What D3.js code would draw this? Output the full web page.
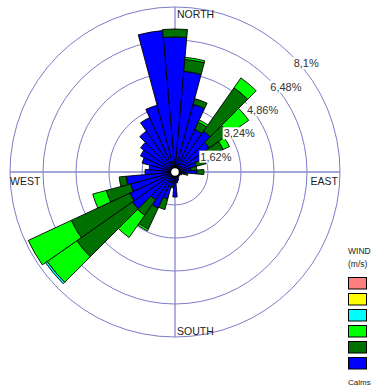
<!DOCTYPE html>
<html>
<head>
<meta charset="utf-8">
<script src="https://cdn.jsdelivr.net/npm/d3@7/dist/d3.min.js"></script>
<style>
  body { margin: 0; background: #fff; }
  svg { display: block; font-family: "Liberation Sans", Arial, sans-serif; }
</style>
</head>
<body>
<div id="chart"></div>
<script>
// direction sectors (degrees, clockwise from north)
const directions = d3.range(0, 360, 10);

// frequency (%) per speed class, one value per direction
const speed1 = [6.63, 4.96, 3.44, 2.31, 2.45, 2.06, 1.87, 1.08, 0.79, 1.08, 0.49, 0.34,
                0.29, 0.25, 0.29, 0.34, 0.44, 0.54, 1.23, 0.69, 1.37, 1.96, 1.67, 2.55,
                2.45, 2.26, 2.41, 1.47, 1.28, 1.67, 1.87, 2.06, 2.45, 2.95, 3.39, 6.97];
const speed2 = [0.39, 0.59, 0.29, 0.39, 2.60, 1.18, 0.74, 0.49, 0.29, 0.34, 0.15, 0,
                0, 0, 0, 0, 0, 0, 0, 0.10, 0.54, 1.13, 0.93, 3.34,
                3.17, 1.23, 0.34, 0, 0, 0, 0, 0, 0, 0, 0, 0];
const speed3 = [0, 0.10, 0, 0.12, 0.59, 1.18, 0.34, 0, 0, 0, 0, 0,
                0, 0, 0, 0, 0, 0, 0, 0, 0, 0.10, 1.33, 1.77,
                2.33, 0.69, 0, 0, 0, 0, 0, 0, 0, 0, 0, 0];
const speed4 = [0, 0, 0, 0, 0, 0, 0, 0, 0, 0, 0, 0,
                0, 0, 0, 0, 0, 0, 0, 0, 0, 0, 0, 0.10,
                0, 0, 0, 0, 0, 0, 0, 0, 0, 0, 0, 0];
const speed5 = directions.map(() => 0);
const speed6 = directions.map(() => 0);

const ringTicks = [1.62, 3.24, 4.86, 6.48, 8.1];
const ringLabels = ['1,62%', '3,24%', '4,86%', '6,48%', '8,1%'];

const keys = ['s1', 's2', 's3', 's4', 's5', 's6'];
const colors = ['#0000ff', '#007000', '#00ff00', '#00ffff', '#ffff00', '#ff8080'];

const W = 373, H = 389;
const cx = 175, cy = 172, R = 165;

const svg = d3.select('#chart').append('svg')
    .attr('width', W)
    .attr('height', H);

const r = d3.scaleLinear().domain([0, 8.1]).range([0, R]);

const table = directions.map((d, i) => ({
    dir: d,
    s1: speed1[i], s2: speed2[i], s3: speed3[i],
    s4: speed4[i], s5: speed5[i], s6: speed6[i]
}));
const series = d3.stack().keys(keys)(table);

const g = svg.append('g').attr('transform', `translate(${cx},${cy})`);

// rings
g.selectAll('circle.ring')
    .data(ringTicks)
    .join('circle')
    .attr('class', 'ring')
    .attr('r', d => r(d))
    .attr('fill', 'none')
    .attr('stroke', '#7c7cc8')
    .attr('stroke-width', 1);

// cross
g.append('line').attr('x1', -R).attr('x2', R).attr('y1', 0).attr('y2', 0)
    .attr('stroke', '#8888cc').attr('stroke-width', 1.3);
g.append('line').attr('x1', 0).attr('x2', 0).attr('y1', -R).attr('y2', R)
    .attr('stroke', '#8888cc').attr('stroke-width', 1.3);

// petals
const half = Math.PI / 36;
const arc = d3.arc()
    .innerRadius(d => r(d[0]))
    .outerRadius(d => r(d[1]))
    .startAngle(d => d.data.dir * Math.PI / 180 - half)
    .endAngle(d => d.data.dir * Math.PI / 180 + half);

series.forEach((s, k) => {
    g.append('g')
        .selectAll('path')
        .data(s.filter(d => d[1] - d[0] > 0))
        .join('path')
        .attr('d', arc)
        .attr('fill', colors[k])
        .attr('stroke', '#000')
        .attr('stroke-width', 0.9)
        .attr('stroke-linejoin', 'miter');
});

// calm circle
g.append('circle').attr('r', 4.5)
    .attr('fill', '#fff').attr('stroke', '#000').attr('stroke-width', 1.5);

// ring labels with white background
const a45 = Math.PI / 4;
ringTicks.forEach((t, i) => {
    const x = r(t) * Math.sin(a45) + 2;
    const y = -r(t) * Math.cos(a45) + 12;
    const lab = g.append('g');
    const txt = lab.append('text')
        .attr('x', x).attr('y', y)
        .attr('font-size', 11)
        .attr('fill', '#333')
        .text(ringLabels[i]);
    const bb = txt.node().getBBox();
    lab.insert('rect', 'text')
        .attr('x', bb.x - 1).attr('y', bb.y)
        .attr('width', bb.width + 2).attr('height', bb.height)
        .attr('fill', '#fff');
});

// compass labels
const dirLabels = [
    { t: 'NORTH', x: cx + 2, y: 18, a: 'start' },
    { t: 'SOUTH', x: cx + 2, y: 335, a: 'start' },
    { t: 'WEST', x: 10, y: 185, a: 'start' },
    { t: 'EAST', x: 338, y: 185, a: 'end' }
];
svg.selectAll('text.dir')
    .data(dirLabels)
    .join('text')
    .attr('class', 'dir')
    .attr('x', d => d.x).attr('y', d => d.y)
    .attr('text-anchor', d => d.a)
    .attr('font-size', 10.5)
    .attr('fill', '#222')
    .text(d => d.t);

// legend
const lg = svg.append('g').attr('transform', 'translate(348,0)');
lg.append('text').attr('x', 0).attr('y', 254).attr('font-size', 8.5).attr('fill', '#222').text('WIND');
lg.append('text').attr('x', 0).attr('y', 267).attr('font-size', 8.5).attr('fill', '#222').text('(m/s)');
const legendOrder = [5, 4, 3, 2, 1, 0];
lg.selectAll('rect.key')
    .data(legendOrder)
    .join('rect')
    .attr('class', 'key')
    .attr('x', 0.5)
    .attr('y', (d, i) => 277.5 + i * 16)
    .attr('width', 18)
    .attr('height', 11.5)
    .attr('fill', d => colors[d])
    .attr('stroke', '#000')
    .attr('stroke-width', 1);
lg.append('text').attr('x', 0).attr('y', 385).attr('font-size', 8).attr('fill', '#222').text('Calms');
</script>
</body>
</html>
